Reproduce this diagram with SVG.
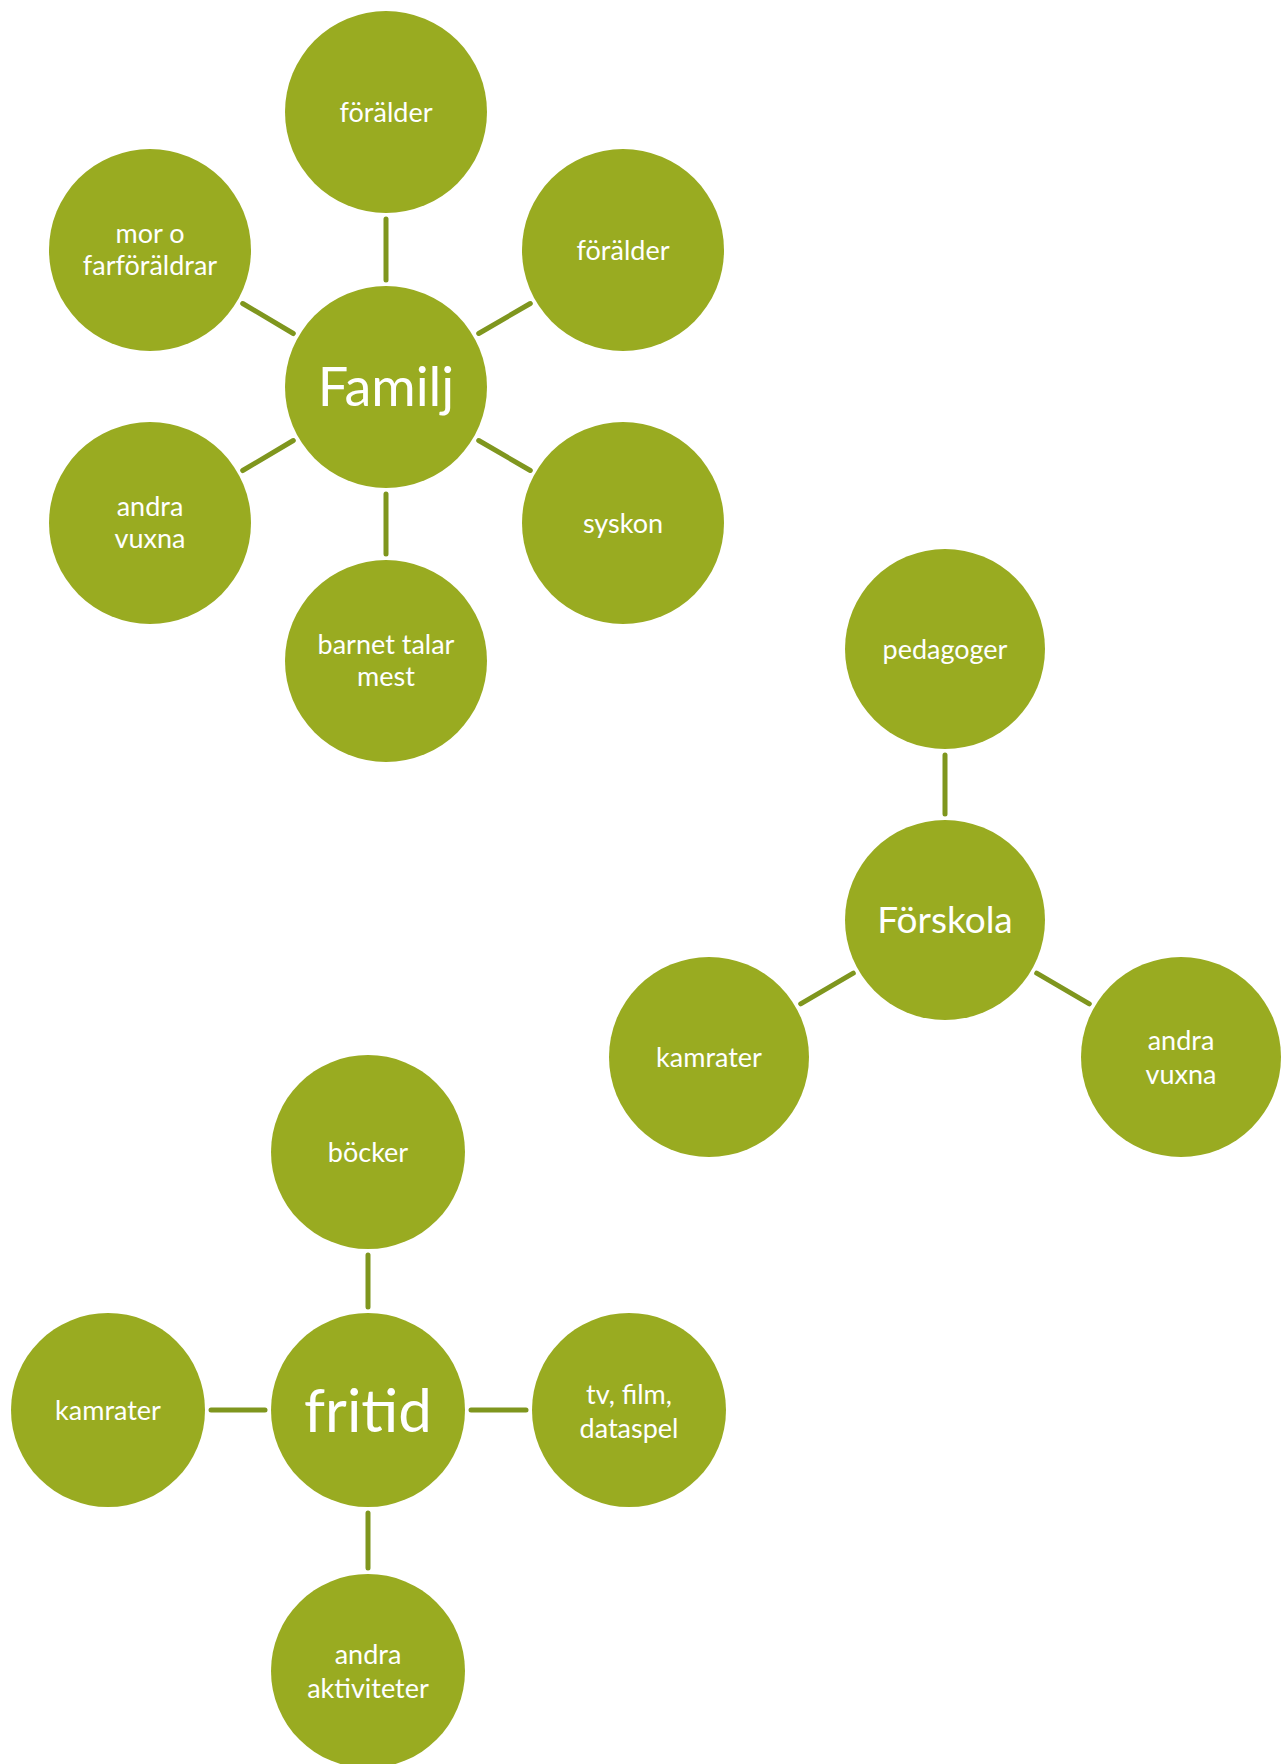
<svg xmlns="http://www.w3.org/2000/svg" width="1287" height="1764" viewBox="0 0 1287 1764">
<style>
.n{fill:#99ab21}
.t{fill:#ffffff;font-family:Lato,"Open Sans","Liberation Sans",sans-serif;font-size:27px;text-anchor:middle}
.c{stroke:#7f961e;stroke-width:5;fill:none;stroke-linecap:round}
</style>
<rect width="1287" height="1764" fill="#ffffff"/>
<g id="connectors">
<line class="c" x1="386" y1="280" x2="386" y2="219"/>
<line class="c" x1="478.7" y1="333.5" x2="530.3" y2="303.5"/>
<line class="c" x1="478.7" y1="440.5" x2="530.3" y2="470.5"/>
<line class="c" x1="386" y1="494" x2="386" y2="554"/>
<line class="c" x1="293.3" y1="440.5" x2="242.7" y2="470.5"/>
<line class="c" x1="293.3" y1="333.5" x2="242.7" y2="303.5"/>
<line class="c" x1="945" y1="814" x2="945" y2="755"/>
<line class="c" x1="853.3" y1="973.2" x2="800.7" y2="1003.8"/>
<line class="c" x1="1036.7" y1="973.2" x2="1089.3" y2="1003.8"/>
<line class="c" x1="368" y1="1307" x2="368" y2="1255"/>
<line class="c" x1="265" y1="1410" x2="211" y2="1410"/>
<line class="c" x1="471" y1="1410" x2="526" y2="1410"/>
<line class="c" x1="368" y1="1513" x2="368" y2="1568"/>
</g>
<g id="familj"><circle class="n" cx="386" cy="387" r="101"/><text class="t" x="386" y="406" style="font-size:54px">Familj</text></g>
<g id="foralder1"><circle class="n" cx="386" cy="112" r="101"/><text class="t" x="386" y="122">förälder</text></g>
<g id="foralder2"><circle class="n" cx="623" cy="250" r="101"/><text class="t" x="623" y="260">förälder</text></g>
<g id="syskon"><circle class="n" cx="623" cy="523" r="101"/><text class="t" x="623" y="533">syskon</text></g>
<g id="barnet"><circle class="n" cx="386" cy="661" r="101"/><text class="t" x="386" y="654">barnet talar</text><text class="t" x="386" y="686">mest</text></g>
<g id="andravuxna1"><circle class="n" cx="150" cy="523" r="101"/><text class="t" x="150" y="516">andra</text><text class="t" x="150" y="548">vuxna</text></g>
<g id="morfar"><circle class="n" cx="150" cy="250" r="101"/><text class="t" x="150" y="243">mor o</text><text class="t" x="150" y="275">farföräldrar</text></g>
<g id="forskola"><circle class="n" cx="945" cy="920" r="100"/><text class="t" x="945" y="933" style="font-size:37px">Förskola</text></g>
<g id="pedagoger"><circle class="n" cx="945" cy="649" r="100"/><text class="t" x="945" y="659">pedagoger</text></g>
<g id="kamrater1"><circle class="n" cx="709" cy="1057" r="100"/><text class="t" x="709" y="1067">kamrater</text></g>
<g id="andravuxna2"><circle class="n" cx="1181" cy="1057" r="100"/><text class="t" x="1181" y="1050">andra</text><text class="t" x="1181" y="1084">vuxna</text></g>
<g id="fritid"><circle class="n" cx="368" cy="1410" r="97"/><text class="t" x="368" y="1432" style="font-size:60px">fritid</text></g>
<g id="bocker"><circle class="n" cx="368" cy="1152" r="97"/><text class="t" x="368" y="1162">böcker</text></g>
<g id="kamrater2"><circle class="n" cx="108" cy="1410" r="97"/><text class="t" x="108" y="1420">kamrater</text></g>
<g id="tvfilm"><circle class="n" cx="629" cy="1410" r="97"/><text class="t" x="629" y="1404">tv, film,</text><text class="t" x="629" y="1438">dataspel</text></g>
<g id="andraaktiviteter"><circle class="n" cx="368" cy="1671" r="97"/><text class="t" x="368" y="1664">andra</text><text class="t" x="368" y="1698">aktiviteter</text></g>
</svg>
